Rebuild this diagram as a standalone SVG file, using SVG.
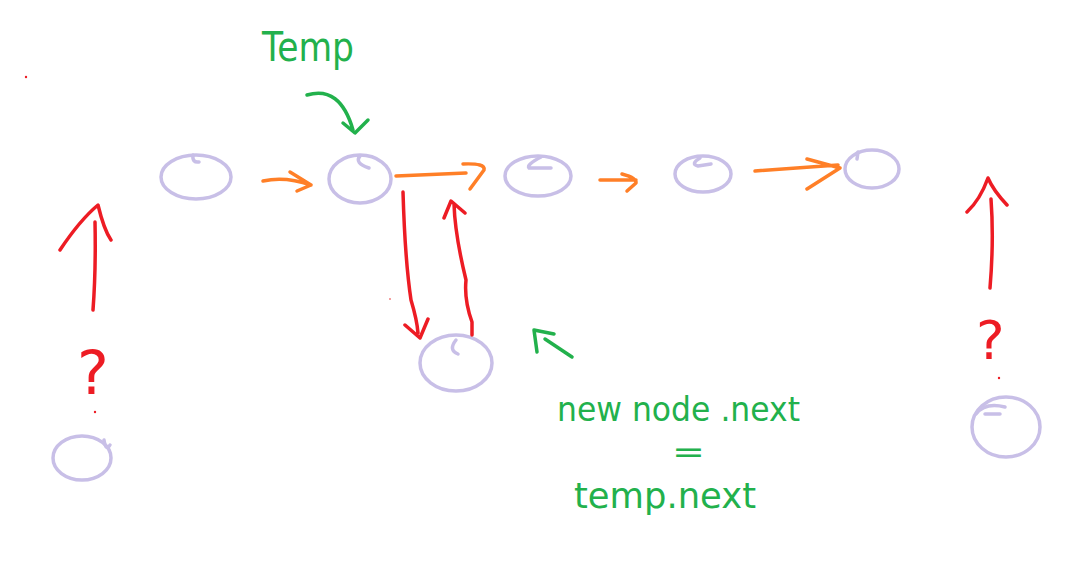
<svg xmlns="http://www.w3.org/2000/svg" width="1078" height="579" viewBox="0 0 1078 579">
<style>
.node{fill:none;stroke:#c8bfe7;stroke-width:3.5;stroke-linecap:round;stroke-linejoin:round}
.or{fill:none;stroke:#ff7f27;stroke-width:3.5;stroke-linecap:round;stroke-linejoin:round}
.rd{fill:none;stroke:#ed1c24;stroke-width:3.5;stroke-linecap:round;stroke-linejoin:round}
.gr{fill:none;stroke:#22b14c;stroke-width:3.5;stroke-linecap:round;stroke-linejoin:round}
.gt{fill:#22b14c;font-family:"DejaVu Sans","Liberation Sans",sans-serif}
.rt{fill:#ed1c24;font-family:"DejaVu Sans","Liberation Sans",sans-serif}
</style>
<rect width="1078" height="579" fill="#ffffff"/>
<g id="node1"><ellipse class="node" cx="196" cy="177" rx="35" ry="22"/><path class="node" d="M193,155 Q192,163 199,162"/></g>
<g id="node2"><ellipse class="node" cx="360" cy="179" rx="31" ry="24"/><path class="node" d="M360,156 Q354,163 369,168"/></g>
<g id="node3"><ellipse class="node" cx="538" cy="176" rx="33" ry="20"/><path class="node" d="M541,157 Q526,165 529,168 L551,168"/></g>
<g id="node4"><ellipse class="node" cx="703" cy="174" rx="28" ry="18"/><path class="node" d="M700,158 Q690,164 698,166 L711,164"/></g>
<g id="node5"><ellipse class="node" cx="872" cy="169" rx="27" ry="19"/><path class="node" d="M858,152 L857,159"/></g>
<g id="newnode"><ellipse class="node" cx="456" cy="363" rx="36" ry="28"/><path class="node" d="M456,340 Q448,350 458,354"/></g>
<g id="nodeLeft"><ellipse class="node" cx="82" cy="458" rx="29" ry="22"/><path class="node" d="M104,440 Q106,452 110,445"/></g>
<g id="nodeRight"><ellipse class="node" cx="1006" cy="427" rx="34" ry="30"/><path class="node" d="M976,414 Q985,402 1005,407 M985,414 L1000,414"/></g>
<g id="connectors">
<path class="or" d="M263,181 Q285,176 311,185 M290,172 L311,185 L297,191"/>
<path class="or" d="M396,176 L466,173 M463,164 Q486,163 484,170 L470,189"/>
<path class="or" d="M600,180 L636,180 M622,174 Q637,178 636,183 L627,191"/>
<path class="or" d="M755,171 L838,165 M807,159 L840,168 L807,189"/>
<path class="rd" d="M403,192 Q405,260 411,300 Q417,320 418,333 M405,325 L420,338 L428,319"/>
<path class="rd" d="M472,335 L472,322 Q464,300 466,280 Q455,235 454,204 M444,218 L451,201 L465,213"/>
<path class="rd" d="M93,310 Q96,270 95,222 M60,250 Q80,220 98,205 Q104,230 111,240"/>
<path class="rd" d="M990,288 Q994,240 991,199 M967,212 Q980,200 988,178 Q993,190 1007,205"/>
<path class="gr" d="M307,95 Q340,85 353,130 M343,123 L355,133 L368,120"/>
<path class="gr" d="M572,357 L545,339 M537,352 L534,330 L554,334"/>
</g>
<text class="gt" x="262" y="61" font-size="40" textLength="92" lengthAdjust="spacingAndGlyphs">Temp</text>
<text class="rt" x="77" y="394" font-size="60">?</text>
<text class="rt" x="976" y="359" font-size="54">?</text>
<circle cx="95" cy="412" r="1.2" fill="#ed1c24"/>
<circle cx="999" cy="378" r="1.2" fill="#ed1c24"/>
<circle cx="26" cy="77" r="1.2" fill="#ed1c24"/>
<circle cx="390" cy="299" r="1" fill="#f08080"/>
<text class="gt" x="557" y="421" font-size="33" textLength="243" lengthAdjust="spacingAndGlyphs">new node .next</text>
<text class="gt" x="672" y="462" font-size="30" textLength="33" lengthAdjust="spacingAndGlyphs">=</text>
<text class="gt" x="574" y="508" font-size="36" textLength="182" lengthAdjust="spacingAndGlyphs">temp.next</text>
</svg>
